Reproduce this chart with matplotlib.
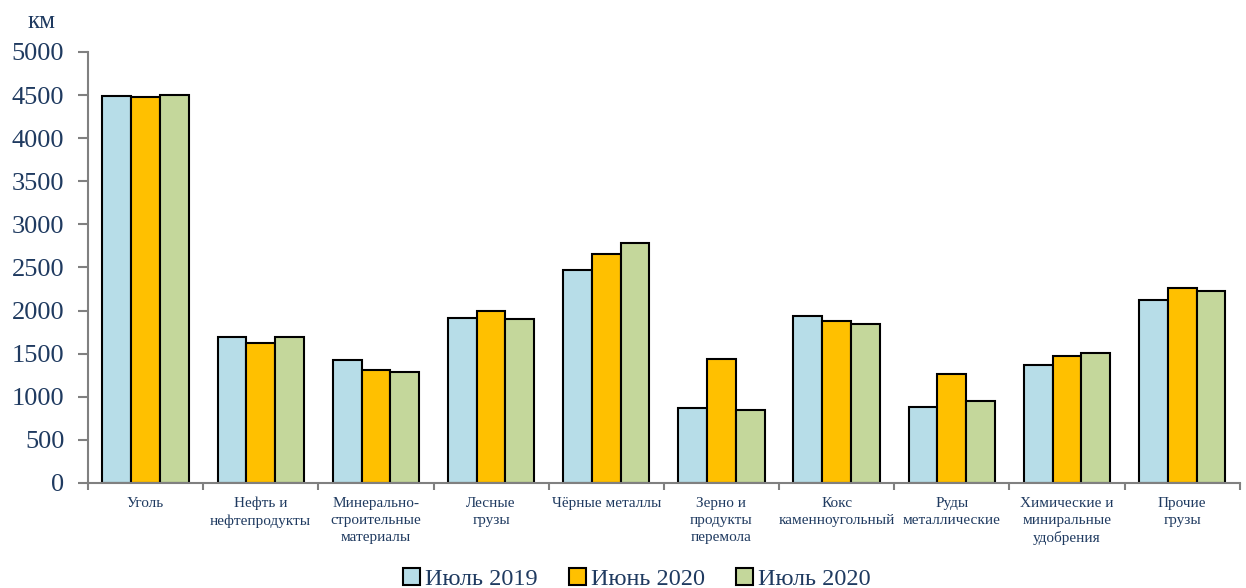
import matplotlib.pyplot as plt
import numpy as np

categories = ['Уголь', 'Нефть и\nнефтепродукты', 'Минерально-\nстроительные\nматериалы',
              'Лесные\nгрузы', 'Чёрные металлы', 'Зерно и\nпродукты\nперемола',
              'Кокс\nкаменноугольный', 'Руды\nметаллические', 'Химические и\nминиральные\nудобрения',
              'Прочие\nгрузы']
jul_2019 = [4495, 1690, 1432, 1914, 2471, 866, 1940, 885, 1369, 2128]
jun_2020 = [4482, 1620, 1311, 1998, 2652, 1439, 1882, 1265, 1473, 2259]
jul_2020 = [4505, 1696, 1293, 1903, 2787, 847, 1847, 948, 1505, 2227]
series_names = ['Июль 2019', 'Июнь 2020', 'Июль 2020']
colors = ['#B7DDE8', '#FFC000', '#C4D79B']

text_col = '#1F3A60'
plt.rcParams['font.family'] = ['Liberation Serif', 'DejaVu Serif']

fig = plt.figure(figsize=(12.46, 5.88), dpi=100)
ax = fig.add_axes([0.0706, 0.1786, 0.9244, 0.733])

x = np.arange(len(categories))
w = 0.25
for i, vals in enumerate([jul_2019, jun_2020, jul_2020]):
    ax.bar(x + (i - 1) * w, vals, w, color=colors[i], edgecolor='black',
           linewidth=1.5, label=series_names[i])

ax.set_xlim(-0.5, len(categories) - 0.5)
ax.set_ylim(0, 5000)
ax.set_yticks(np.arange(0, 5001, 500))
ax.tick_params(axis='y', labelsize=19, labelcolor=text_col, color='#808080',
               width=1.5, length=7, pad=10)
ax.set_xticks(x)
ax.set_xticklabels(categories, fontsize=11, color=text_col, linespacing=1.4)
ax.tick_params(axis='x', length=0, pad=10)
ax.set_xticks(np.arange(-0.5, len(categories), 1), minor=True)
ax.tick_params(axis='x', which='minor', length=5, width=1.5, color='#808080')

for s in ['top', 'right']:
    ax.spines[s].set_visible(False)
for s in ['left', 'bottom']:
    ax.spines[s].set_color('#808080')
    ax.spines[s].set_linewidth(1.5)

fig.text(0.022, 0.962, 'км', fontsize=18, color=text_col, ha='left', va='center')

leg = fig.legend(loc='lower center', bbox_to_anchor=(0.511, -0.04), ncol=3,
                 frameon=False, fontsize=17.5, handlelength=0.7, handleheight=0.7,
                 handletextpad=0.2, columnspacing=1.3)
for t in leg.get_texts():
    t.set_color(text_col)

fig.savefig('out.png', dpi=100)
